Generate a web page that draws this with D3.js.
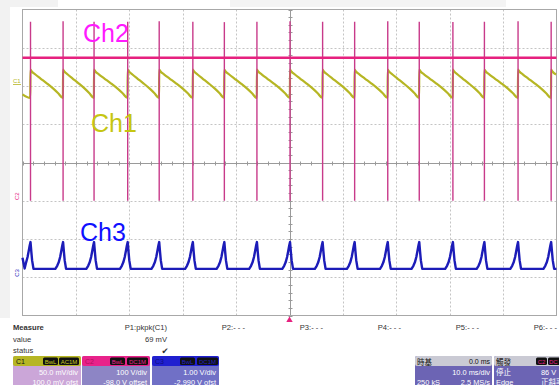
<!DOCTYPE html>
<html><head><meta charset="utf-8">
<script src="https://cdn.jsdelivr.net/npm/d3@7"></script>
<style>
html,body{margin:0;padding:0;background:#fff;}
svg{display:block;}
text{font-family:"Liberation Sans",Arial,sans-serif;}
</style>
</head><body>
<svg id="scope" width="559" height="385"></svg>
<script>
// Switching edges seen on Ch2, in ms from the trigger
const edgeTimes = [-48.5, -42.4, -36.6, -30.3, -24.4, -18.1, -12.2, -6.1, 0.1, 6.2, 12.2, 18.4, 24.3, 30.6, 36.5, 42.8, 49.0];

// Ch2 (V): flat level, and the excursions at every edge
const ch2Level = 372;
const ch2SpikeHigh = [466, 467, 466, 466, 467, 466, 465, 466, 467, 466, 466, 467, 466, 465, 466, 467, 466];
const ch2SpikeLow = [-2, -2, -2, -2, -2, -2, -2, -2, -2, -2, -2, -2, -2, -2, -2, -2, -2];

// Ch1 (mV): one ramp per cycle, [fraction of cycle after the edge, mV]
const ch1Cycle = [[0, 21.5], [0.04, 19.0], [0.15, 15.0], [0.3, 10.0], [0.5, 3.5], [0.7, -3.5], [0.85, -9.5], [0.995, -15.7]];
const ch1Lead = [[-50, -11], [-48.55, -15.7]];

// Ch3 (V): pulse around each edge, [ms from edge, V]
const ch3Pulse = [[-1.45, 0.21], [-1.1, 0.29], [-0.82, 0.38], [-0.55, 0.52], [-0.32, 0.69], [-0.15, 0.82], [0, 0.91], [0.15, 0.66], [0.3, 0.43], [0.56, 0.21]];
const ch3Lead = [[-50, 0.5], [-49.6, 0.22]];
const ch3Tail = [[50, 0.21]];

// Channel settings
const channels = [
  {name: "C1", tags: ["BwL", "AC1M"], vdiv: "50.0 mV/div", ofst: "100.0 mV ofst"},
  {name: "C2", tags: ["BwL", "DC1M"], vdiv: "100 V/div", ofst: "-98.0 V offset"},
  {name: "C3", tags: ["BwL", "DC1M"], vdiv: "1.00 V/div", ofst: "-2.990 V ofst"}
];
const measureCols = ["P1:pkpk(C1)", "P2:- - -", "P3:- - -", "P4:- - -", "P5:- - -", "P6:- - -"];
const measureValue = "69 mV";

const svg = d3.select("#scope");
const L = 22.5, R = 556.5, T = 9.5, B = 315.5;

// time axis: 10 ms/div, trigger in the middle
const x = d3.scaleLinear().domain([-50, 50]).range([L, R]);
// vertical divisions
const div = d3.scaleLinear().domain([-4, 4]).range([B, T]);
// per-channel scales (8 divisions, offset moves the centre)
const y1 = d3.scaleLinear().domain([-100 - 200, -100 + 200]).range([B, T]);   // mV
const y2 = d3.scaleLinear().domain([98 - 400, 98 + 400]).range([B, T]);       // V
const y3 = d3.scaleLinear().domain([2.99 - 4, 2.99 + 4]).range([B, T]);       // V

const C1 = "#b6b624", C2 = "#e6217f", C3 = "#1c1cb8";

// light margins
svg.append("rect").attr("x", 0).attr("y", 0).attr("width", 10).attr("height", 318).attr("fill", "#f2f2f2");
svg.append("rect").attr("x", 0).attr("y", 0).attr("width", 58).attr("height", 7).attr("fill", "#f2f2f2");
svg.append("rect").attr("x", 230).attr("y", 0).attr("width", 276).attr("height", 7).attr("fill", "#f4f4f4");

// graticule
const grid = svg.append("g");
grid.selectAll(".gx").data(d3.range(-40, 50, 10).filter(t => t !== 0)).join("line")
  .attr("x1", d => Math.round(x(d)) + 0.5).attr("x2", d => Math.round(x(d)) + 0.5)
  .attr("y1", T).attr("y2", B)
  .attr("stroke", "#c4c4c4").attr("stroke-dasharray", "2,2");
grid.selectAll(".gy").data(d3.range(-3, 4).filter(v => v !== 0)).join("line")
  .attr("y1", d => Math.round(div(d)) + 0.5).attr("y2", d => Math.round(div(d)) + 0.5)
  .attr("x1", L).attr("x2", R)
  .attr("stroke", "#c4c4c4").attr("stroke-dasharray", "2,2");
// centre axes with minor ticks
const cx = Math.round(x(0)) + 0.5, cy = Math.round(div(0)) + 0.5;
grid.append("line").attr("x1", L).attr("x2", R).attr("y1", cy).attr("y2", cy).attr("stroke", "#9a9a9a");
grid.append("line").attr("x1", cx).attr("x2", cx).attr("y1", T).attr("y2", B).attr("stroke", "#9a9a9a");
grid.selectAll(".tx").data(d3.range(-50, 50.1, 2)).join("line")
  .attr("x1", d => Math.round(x(d)) + 0.5).attr("x2", d => Math.round(x(d)) + 0.5)
  .attr("y1", cy - 2).attr("y2", cy + 2).attr("stroke", "#9a9a9a");
grid.selectAll(".ty").data(d3.range(-4, 4.01, 0.2)).join("line")
  .attr("y1", d => Math.round(div(d)) + 0.5).attr("y2", d => Math.round(div(d)) + 0.5)
  .attr("x1", cx - 2).attr("x2", cx + 2).attr("stroke", "#9a9a9a");
grid.append("rect").attr("x", L).attr("y", T).attr("width", R - L).attr("height", B - T)
  .attr("fill", "none").attr("stroke", "#a8a8a8");

const line = (ys) => d3.line().x(d => x(d[0])).y(d => ys(d[1]));

// Ch3 trace
const ch3Pts = [...ch3Lead];
edgeTimes.forEach(e => {
  ch3Pulse.forEach(([dt, v]) => {
    const t = e + dt;
    if (t > ch3Pts[ch3Pts.length - 1][0] && t <= 50) ch3Pts.push([t, v]);
  });
});
ch3Tail.forEach(p => ch3Pts.push(p));
svg.append("path").datum(ch3Pts).attr("d", line(y3))
  .attr("fill", "none").attr("stroke", C3).attr("stroke-width", 2.4).attr("stroke-linejoin", "round");

// Ch1 trace
const meanPeriod = (edgeTimes[edgeTimes.length - 1] - edgeTimes[0]) / (edgeTimes.length - 1);
const ch1Pts = [...ch1Lead];
edgeTimes.forEach((e, i) => {
  const period = i < edgeTimes.length - 1 ? edgeTimes[i + 1] - e : meanPeriod;
  for (const [f, v] of ch1Cycle) {
    const t = e + f * period;
    if (t > 50) { break; }
    ch1Pts.push([t, v]);
  }
});
svg.append("path").datum(ch1Pts).attr("d", line(y1).curve(d3.curveMonotoneX))
  .attr("fill", "none").attr("stroke", C1).attr("stroke-width", 2.2).attr("stroke-linejoin", "round");

// Ch2 edges and level
svg.append("g").selectAll("line").data(edgeTimes).join("line")
  .attr("x1", d => x(d)).attr("x2", d => x(d))
  .attr("y1", (d, i) => y2(ch2SpikeLow[i])).attr("y2", (d, i) => y2(ch2SpikeHigh[i]))
  .attr("stroke", "#c83a8a").attr("stroke-width", 1.4);
svg.append("line").attr("x1", L).attr("x2", R)
  .attr("y1", y2(ch2Level)).attr("y2", y2(ch2Level))
  .attr("stroke", C2).attr("stroke-width", 2.6);

// channel ground markers
svg.append("text").attr("x", 13).attr("y", y1(0) - 3).attr("font-size", 6).attr("fill", C1).text("C1");
svg.append("line").attr("x1", 13).attr("x2", 21).attr("y1", y1(0) - 1.5).attr("y2", y1(0) - 1.5).attr("stroke", C1).attr("stroke-width", 0.8);
svg.append("text").attr("transform", `translate(19,${y2(0)}) rotate(-90)`).attr("font-size", 6)
  .attr("fill", C2).text("C2");
svg.append("text").attr("transform", `translate(19,${y3(0)}) rotate(-90)`).attr("font-size", 6)
  .attr("fill", C3).text("C3");

// trigger position marker
svg.append("path").attr("d", `M${x(0)},${B + 1}l3.2,5.5h-6.4z`).attr("fill", C2);

// channel captions
svg.append("text").attr("x", 83).attr("y", 42).attr("font-size", 25).attr("fill", "#ff1aff").text("Ch2");
svg.append("text").attr("x", 91).attr("y", 132).attr("font-size", 25).attr("fill", "#c6c612").text("Ch1");
svg.append("text").attr("x", 80).attr("y", 241).attr("font-size", 25).attr("fill", "#1010ff").text("Ch3");

// measurement table
const mt = svg.append("g").attr("font-size", 7.6).attr("fill", "#333");
mt.append("text").attr("x", 13).attr("y", 330).attr("font-weight", "bold").text("Measure");
mt.append("text").attr("x", 13).attr("y", 342).text("value");
mt.append("text").attr("x", 13).attr("y", 353).text("status");
mt.selectAll(".mc").data(measureCols).join("text")
  .attr("x", (d, i) => 167 + 78 * i).attr("y", 330).attr("text-anchor", "end").text(d => d);
mt.append("text").attr("x", 167).attr("y", 342).attr("text-anchor", "end").text(measureValue);
mt.append("text").attr("x", 165).attr("y", 353.5).attr("text-anchor", "middle")
  .style("font-family", "'DejaVu Sans'").attr("font-size", 8.5).text("\u2714");

// channel setting boxes
const boxLayout = [
  {x: 13, w: 68, head: C1, body: "#cba6d8", ink: "#111", tag: "#c8c820", tagX: [43, 59], tagW: [15, 20]},
  {x: 82, w: 68, head: "#e8228a", body: "#8d85c5", ink: "#b0105c", tag: "#e8228a", tagX: [110, 127], tagW: [15, 21]},
  {x: 152, w: 67, head: "#2020d0", body: "#7070c6", ink: "#101080", tag: "#2020c0", tagX: [180, 197], tagW: [15, 21]}
];
channels.forEach((ch, i) => {
  const b = boxLayout[i];
  const g = svg.append("g");
  g.append("rect").attr("x", b.x).attr("y", 356).attr("width", b.w).attr("height", 32).attr("rx", 2).attr("fill", b.body);
  g.append("rect").attr("x", b.x).attr("y", 356).attr("width", b.w).attr("height", 10).attr("rx", 2).attr("fill", b.head);
  g.append("text").attr("x", b.x + 3).attr("y", 364).attr("font-size", 7).attr("fill", b.ink).text(ch.name);
  ch.tags.forEach((t, k) => {
    g.append("rect").attr("x", b.tagX[k]).attr("y", 357.5).attr("width", b.tagW[k]).attr("height", 7.5).attr("rx", 1.5).attr("fill", "#111");
    g.append("text").attr("x", b.tagX[k] + b.tagW[k] / 2).attr("y", 363.6).attr("text-anchor", "middle")
      .attr("font-size", 6).attr("fill", b.tag).text(t);
  });
  g.append("text").attr("x", b.x + b.w - 3).attr("y", 374.5).attr("text-anchor", "end").attr("font-size", 7.4).attr("fill", "#fff").text(ch.vdiv);
  g.append("text").attr("x", b.x + b.w - 3).attr("y", 384.5).attr("text-anchor", "end").attr("font-size", 7.4).attr("fill", "#fff").text(ch.ofst);
});

// timebase and trigger boxes
const cjk = "'Noto Sans CJK TC','Noto Sans CJK SC',sans-serif";
const tb = svg.append("g");
tb.append("rect").attr("x", 415).attr("y", 356).attr("width", 77).attr("height", 32).attr("rx", 2).attr("fill", "#6c64b4");
tb.append("rect").attr("x", 415).attr("y", 356).attr("width", 77).attr("height", 10).attr("rx", 2).attr("fill", "#cacad4");
tb.append("text").attr("x", 417).attr("y", 364.5).attr("font-size", 7.5).style("font-family", cjk).attr("fill", "#111").text("時基");
tb.append("text").attr("x", 490).attr("y", 364).attr("text-anchor", "end").attr("font-size", 7).attr("fill", "#111").text("0.0 ms");
tb.append("text").attr("x", 490).attr("y", 374.5).attr("text-anchor", "end").attr("font-size", 7.4).attr("fill", "#fff").text("10.0 ms/div");
tb.append("text").attr("x", 417).attr("y", 384.5).attr("font-size", 7.4).attr("fill", "#fff").text("250 kS");
tb.append("text").attr("x", 490).attr("y", 384.5).attr("text-anchor", "end").attr("font-size", 7.4).attr("fill", "#fff").text("2.5 MS/s");

const tg = svg.append("g");
tg.append("rect").attr("x", 494).attr("y", 356).attr("width", 72).attr("height", 32).attr("rx", 2).attr("fill", "#6c64b4");
tg.append("rect").attr("x", 494).attr("y", 356).attr("width", 72).attr("height", 10).attr("rx", 2).attr("fill", "#cacad4");
tg.append("text").attr("x", 496).attr("y", 364.5).attr("font-size", 7.5).style("font-family", cjk).attr("fill", "#111").text("觸發");
tg.append("rect").attr("x", 536).attr("y", 357.5).attr("width", 11).attr("height", 7.5).attr("rx", 1.5).attr("fill", "#111");
tg.append("text").attr("x", 541.5).attr("y", 363.6).attr("text-anchor", "middle").attr("font-size", 6).attr("fill", "#e8228a").text("C2");
tg.append("rect").attr("x", 548).attr("y", 357.5).attr("width", 13).attr("height", 7.5).attr("rx", 1.5).attr("fill", "#111");
tg.append("text").attr("x", 549).attr("y", 363.6).attr("font-size", 6).attr("fill", "#e8228a").text("DC");
tg.append("text").attr("x", 496).attr("y", 375).attr("font-size", 7.5).style("font-family", cjk).attr("fill", "#fff").text("停止");
tg.append("text").attr("x", 541).attr("y", 374.5).attr("font-size", 7.4).attr("fill", "#fff").text("86 V");
tg.append("text").attr("x", 496).attr("y", 384.5).attr("font-size", 7.4).attr("fill", "#fff").text("Edge");
tg.append("text").attr("x", 541).attr("y", 385).attr("font-size", 7.5).style("font-family", cjk).attr("fill", "#fff").text("正斜率");
</script>
</body></html>
